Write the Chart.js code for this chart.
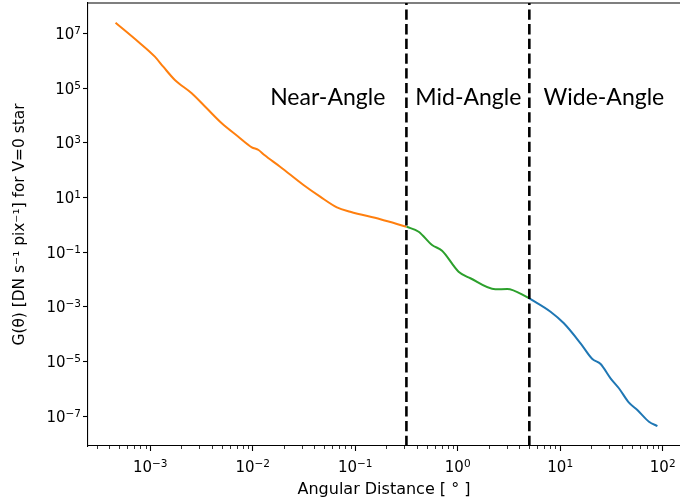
<!DOCTYPE html>
<html>
<head>
<meta charset="utf-8">
<script src="https://cdn.jsdelivr.net/npm/chart.js@4.4.1/dist/chart.umd.min.js"></script>
<style>
    html, body { margin: 0; padding: 0; background: #fff; }
    #wrap { width: 680px; height: 503px; }
</style>
</head>
<body>
<div id="wrap"><canvas id="psfChart" width="680" height="503"></canvas></div>
<script>
// Near-angle segment (orange)
const nearX = [4.59e-4, 7.64e-4, 1.11e-3, 1.34e-3, 1.74e-3, 2.54e-3, 3.56e-3, 4.99e-3, 7.24e-3,
    9.80e-3, 1.14e-2, 1.30e-2, 1.85e-2, 3.13e-2, 4.55e-2, 6.63e-2, 8.95e-2, 0.176, 0.316];
const nearY = [2.53e7, 5.09e6, 1.44e6, 6.19e5, 2.02e5, 6.58e4, 1.85e4, 5.24e3, 1.69e3,
    692, 552, 361, 135, 28.8, 10.8, 4.40, 3.03, 1.60, 0.857];

// Mid-angle segment (green)
const midX = [0.316, 0.416, 0.562, 0.704, 1.02, 1.33, 2.33, 3.04, 5.0];
const midY = [0.857, 0.562, 0.183, 0.113, 0.0193, 0.0111, 4.38e-3, 4.49e-3, 2.05e-3];

// Wide-angle segment (blue)
const wideX = [5.0, 8.05, 10.86, 15.8, 20.6, 24.8, 31.0, 37.4, 46.9, 56.6, 73.5, 88.8];
const wideY = [2.05e-3, 6.62e-4, 2.49e-4, 4.61e-5, 1.23e-5, 8.05e-6, 2.41e-6, 1.04e-6, 3.08e-7, 1.66e-7, 6.21e-8, 4.31e-8];

// region boundaries and labels
const boundaryX = [0.316, 5.0];
const regionNames = ['Near-Angle', 'Mid-Angle', 'Wide-Angle'];
const regionLabelX = [0.0148, 0.386, 6.88];
const regionLabelY = 2.45e4;

// axes
const xMin = Math.pow(10, -3.607);
const xMax = Math.pow(10, 2.169);
const yMin = Math.pow(10, -8.097);
const yMax = Math.pow(10, 8.124);
const xTicks = [1e-3, 1e-2, 1e-1, 1, 10, 100];
const yTicks = [1e-7, 1e-5, 1e-3, 1e-1, 10, 1e3, 1e5, 1e7];

const baseFont = '15px "DejaVu Sans"';
const supFont = '10.5px "DejaVu Sans"';

function toPoints(xs, ys) {
    return xs.map((x, i) => ({ x: x, y: ys[i] }));
}

// draws "10" with a raised exponent, like matplotlib's mathtext labels
function drawPow(ctx, v, x, y, align) {
    const e = Math.round(Math.log10(v));
    const expText = (e < 0 ? '\u2212' : '') + Math.abs(e);
    ctx.font = baseFont;
    const wb = ctx.measureText('10').width;
    ctx.font = supFont;
    const we = ctx.measureText(expText).width;
    const total = wb + we;
    const left = align === 'right' ? x - total : x - total / 2;
    ctx.font = baseFont;
    ctx.fillText('10', left, y);
    ctx.font = supFont;
    ctx.fillText(expText, left + wb, y - 5);
}

// tick labels, minor ticks on x, top spine and region labels
const extrasPlugin = {
    id: 'extras',
    afterDraw(chart) {
        const ctx = chart.ctx;
        const area = chart.chartArea;
        const xs = chart.scales.x;
        const ys = chart.scales.y;
        ctx.save();
        ctx.strokeStyle = '#000';
        ctx.lineWidth = 0.8;
        for (let d = -4; d <= 2; d++) {
            for (let k = 2; k <= 9; k++) {
                const v = k * Math.pow(10, d);
                if (v < xMin || v > xMax) continue;
                const px = Math.round(xs.getPixelForValue(v)) + 0.5;
                ctx.beginPath();
                ctx.moveTo(px, area.bottom);
                ctx.lineTo(px, area.bottom + 3);
                ctx.stroke();
            }
        }
        ctx.lineWidth = 1.1;
        ctx.beginPath();
        ctx.moveTo(area.left, area.top);
        ctx.lineTo(area.right, area.top);
        ctx.stroke();

        ctx.fillStyle = '#000';
        ctx.textBaseline = 'alphabetic';
        ctx.textAlign = 'left';
        xTicks.forEach(v => drawPow(ctx, v, xs.getPixelForValue(v), area.bottom + 25.5, 'center'));
        yTicks.forEach(v => drawPow(ctx, v, area.left - 7, ys.getPixelForValue(v) + 5.5, 'right'));

        ctx.font = '23px Lato';
        regionNames.forEach((name, i) => {
            ctx.fillText(name, xs.getPixelForValue(regionLabelX[i]), ys.getPixelForValue(regionLabelY));
        });
        ctx.restore();
    }
};

const ctx = document.getElementById('psfChart').getContext('2d');
Chart.defaults.color = '#000';

const boundarySets = boundaryX.map(bx => ({
    data: [{ x: bx, y: yMin }, { x: bx, y: yMax }],
    borderColor: '#000',
    borderWidth: 2.6,
    borderDash: [10.3, 4.4],
    pointRadius: 0,
    order: 0
}));

new Chart(ctx, {
    type: 'line',
    data: {
        datasets: [
            { data: toPoints(nearX, nearY), borderColor: '#ff7f0e', borderWidth: 2, pointRadius: 0, cubicInterpolationMode: 'monotone', order: 1 },
            { data: toPoints(midX, midY), borderColor: '#2ca02c', borderWidth: 2, pointRadius: 0, cubicInterpolationMode: 'monotone', order: 1 },
            { data: toPoints(wideX, wideY), borderColor: '#1f77b4', borderWidth: 2, pointRadius: 0, cubicInterpolationMode: 'monotone', order: 1 },
            ...boundarySets
        ]
    },
    options: {
        responsive: false,
        animation: false,
        devicePixelRatio: 1,
        layout: { padding: { top: 3, right: 0, left: 0, bottom: 0 } },
        plugins: {
            legend: { display: false },
            tooltip: { enabled: false }
        },
        scales: {
            x: {
                type: 'logarithmic',
                min: xMin,
                max: xMax,
                afterBuildTicks: scale => { scale.ticks = xTicks.map(v => ({ value: v })); },
                afterFit: scale => { scale.height = 57; scale.paddingLeft = 0; scale.paddingRight = 0; },
                border: { display: true, color: '#000', width: 1.1 },
                grid: { drawOnChartArea: false, drawTicks: true, tickLength: 5, tickColor: '#000', tickWidth: 1.1 },
                ticks: { display: false },
                title: { display: true, text: 'Angular Distance [ \u00B0 ]', font: { family: 'DejaVu Sans', size: 16 }, padding: { bottom: 3.4, top: 0 } }
            },
            y: {
                type: 'logarithmic',
                min: yMin,
                max: yMax,
                afterBuildTicks: scale => { scale.ticks = yTicks.map(v => ({ value: v })); },
                afterFit: scale => { scale.width = 88; scale.paddingTop = 0; scale.paddingBottom = 0; },
                border: { display: true, color: '#000', width: 1.1 },
                grid: { drawOnChartArea: false, drawTicks: true, tickLength: 5, tickColor: '#000', tickWidth: 1.1 },
                ticks: { display: false },
                title: { display: true, text: 'G(\u03B8) [DN s\u207B\u00B9 pix\u207B\u00B9] for V=0 star', font: { family: 'DejaVu Sans', size: 15.4 }, padding: { top: 10.8, bottom: 0 } }
            }
        }
    },
    plugins: [extrasPlugin]
});
</script>
</body>
</html>
